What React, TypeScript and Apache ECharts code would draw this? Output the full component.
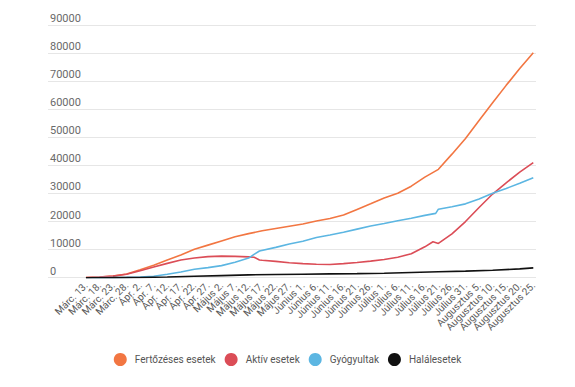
import React, { useEffect, useRef } from "react";
import * as echarts from "echarts";

// Tick labels every 5 days, starting Márc. 13. (day index 0)
const dateLabels = [
  "Márc. 13.", "Márc. 18.", "Márc. 23.", "Márc. 28.", "Ápr. 2.", "Ápr. 7.", "Ápr. 12.", "Ápr. 17.",
  "Ápr. 22.", "Ápr. 27.", "Május 2.", "Május 7.", "Május 12.", "Május 17.", "Május 22.", "Május 27.",
  "Június 1.", "Június 6.", "Június 11.", "Június 16.", "Június 21.", "Június 26.", "Július 1.",
  "Július 6.", "Július 11.", "Július 16.", "Július 21.", "Július 26.", "Július 31.", "Augusztus 5.",
  "Augusztus 10.", "Augusztus 15.", "Augusztus 20.", "Augusztus 25.",
];

const seriesNames = ["Fertőzéses esetek", "Aktív esetek", "Gyógyultak", "Halálesetek"];
const seriesColors = ["#F27642", "#DB4D57", "#5CB6E2", "#111111"];

// [day index, value]
const infected: [number, number][] = [
  [0, 90], [5, 260], [10, 580], [15, 1300], [20, 2800], [25, 4400], [30, 6300], [35, 8100],
  [40, 10100], [45, 11600], [50, 13100], [55, 14600], [60, 15700], [65, 16700], [70, 17500],
  [75, 18300], [80, 19100], [85, 20200], [90, 21100], [95, 22300], [100, 24300], [105, 26300],
  [110, 28400], [115, 30100], [120, 32600], [125, 35800], [130, 38600], [135, 44000],
  [140, 49600], [145, 56000], [150, 62300], [155, 68500], [160, 74500], [165, 80100],
];

const active: [number, number][] = [
  [0, 90], [5, 250], [10, 560], [15, 1200], [20, 2500], [25, 3800], [30, 5100], [35, 6300],
  [40, 7000], [45, 7500], [50, 7700], [55, 7600], [60, 7400], [62, 7300], [64, 6300], [65, 6200],
  [70, 5800], [75, 5300], [80, 5000], [85, 4800], [90, 4700], [95, 5000], [100, 5400], [105, 5900],
  [110, 6500], [115, 7300], [120, 8500], [125, 11000], [128, 12800], [130, 12200], [135, 15600],
  [140, 20000], [145, 25000], [150, 29800], [155, 33800], [160, 37600], [165, 41000],
];

const recovered: [number, number][] = [
  [0, 0], [5, 10], [10, 20], [15, 100], [20, 250], [25, 500], [30, 1200], [35, 2000], [40, 3000],
  [45, 3600], [50, 4300], [55, 5500], [60, 7000], [62, 8300], [64, 9500], [70, 10800], [75, 12000],
  [80, 13000], [85, 14300], [90, 15200], [95, 16200], [100, 17300], [105, 18400], [110, 19300],
  [115, 20300], [120, 21200], [125, 22200], [129, 22900], [130, 24400], [135, 25300], [140, 26300],
  [145, 28000], [150, 30100], [155, 31800], [160, 33600], [165, 35600],
];

const deaths: [number, number][] = [
  [0, 0], [10, 10], [20, 70], [30, 250], [40, 500], [50, 750], [60, 1000], [70, 1150], [80, 1250],
  [90, 1350], [100, 1450], [110, 1600], [120, 1850], [130, 2100], [140, 2350], [150, 2650],
  [160, 3150], [165, 3500],
];

const allData = [infected, active, recovered, deaths];

const xMin = -14;
const xMax = 166;

// Two label axes (even / odd ticks) so the crowded rotated labels are never auto-hidden.
const makeLabelAxis = (parity: number) => ({
  type: "value",
  min: xMin,
  max: xMax,
  position: "bottom",
  axisLine: { show: false },
  axisTick: { show: false },
  splitLine: { show: false },
  axisLabel: {
    customValues: dateLabels.map((_, i) => i * 5).filter((v, i) => i % 2 === parity),
    formatter: (v: number) => {
      const i = Math.round(v / 5);
      return v >= 0 && Math.abs(v - i * 5) < 1e-6 ? dateLabels[i] ?? "" : "";
    },
    showMinLabel: true,
    showMaxLabel: true,
    hideOverlap: false,
    rotate: 45,
    margin: 6,
    fontSize: 10,
    color: "#5a5a5a",
    fontFamily: "Roboto, Arial, sans-serif",
  },
});

export default function App() {
  const ref = useRef<HTMLDivElement>(null);
  useEffect(() => {
    if (!ref.current) return;
    const chart = echarts.init(ref.current, undefined, { renderer: "svg" });
    chart.setOption({
      animation: false,
      backgroundColor: "#ffffff",
      textStyle: { fontFamily: "Roboto, Arial, sans-serif" },
      legend: {
        data: seriesNames.map((n) => ({ name: n, icon: "circle" })),
        top: 348,
        left: "center",
        itemWidth: 13,
        itemHeight: 13,
        itemGap: 9,
        textStyle: { fontSize: 10, color: "#555", fontFamily: "Roboto, Arial, sans-serif", padding: [0, 0, 0, 3] },
      },
      grid: { left: 48, right: 39, top: 25, bottom: 109.3, containLabel: false },
      xAxis: [makeLabelAxis(0), makeLabelAxis(1)],
      yAxis: {
        type: "value",
        min: 0,
        max: 90000,
        interval: 10000,
        axisLine: { show: false },
        axisTick: { show: false },
        splitLine: { lineStyle: { color: "#e6e6e6", width: 1.2 } },
        axisLabel: {
          inside: true,
          margin: 2,
          verticalAlign: "bottom",
          fontSize: 11,
          color: "#6a6a6a",
          fontFamily: "Roboto, Arial, sans-serif",
          padding: [0, 0, 1, 0],
          formatter: (v: number) => String(v),
        },
      },
      series: allData.map((d, i) => ({
        name: seriesNames[i],
        type: "line",
        xAxisIndex: 0,
        data: d,
        showSymbol: false,
        symbol: "none",
        color: seriesColors[i],
        lineStyle: { width: 1.6, color: seriesColors[i] },
      })),
    });
    return () => chart.dispose();
  }, []);
  return (
    <div
      ref={ref}
      style={{ position: "fixed", left: 0, top: 0, width: 575, height: 387, background: "#fff" }}
    />
  );
}
